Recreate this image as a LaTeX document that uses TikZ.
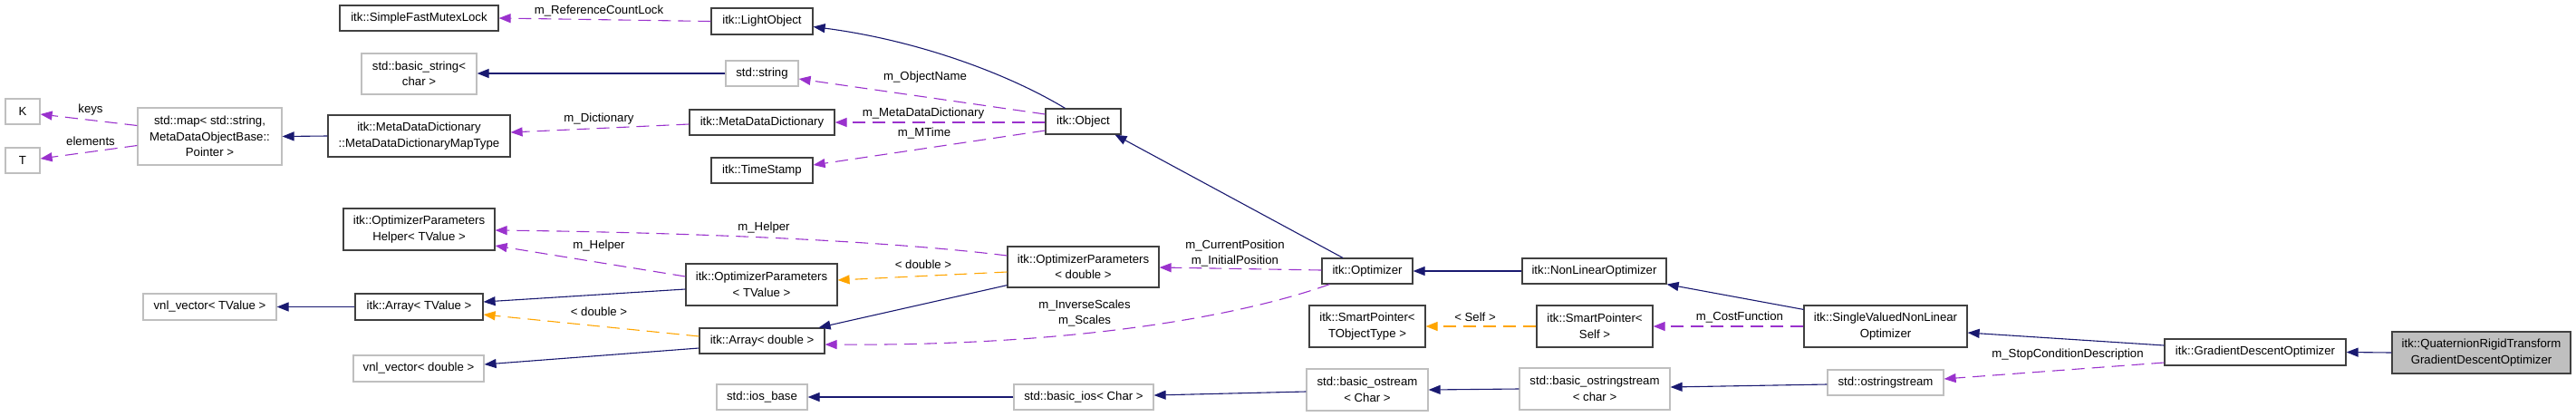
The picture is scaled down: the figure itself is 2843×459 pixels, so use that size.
\documentclass[tikz,border=0pt]{standalone}
\usepackage{fontspec}
\setmainfont{Liberation Sans}
\usetikzlibrary{arrows.meta,calc}
\definecolor{navyc}{HTML}{191970}
\definecolor{purpc}{HTML}{9A32CD}
\definecolor{orac}{HTML}{FFA500}
\definecolor{grayb}{HTML}{BFBFBF}
\definecolor{blackb}{HTML}{404040}
\newcommand\dgfont{\fontsize{13.2}{17.5}\selectfont}
\tikzset{
  box/.style={draw=blackb, line width=1.2pt, inner sep=0pt, align=center, font=\dgfont, fill=white},
  gbox/.style={box, draw=grayb},
  inh/.style={draw=navyc, line width=1.1pt, -{Triangle[length=13pt,width=10pt]}},
  mem/.style={draw=purpc, line width=1.1pt, dash pattern=on 14pt off 8pt, -{Triangle[length=13pt,width=10pt]}},
  tmpl/.style={draw=orac, line width=1.1pt, dash pattern=on 14pt off 8pt, -{Triangle[length=13pt,width=10pt]}},
  lbl/.style={font=\dgfont, inner sep=0pt, align=center}
}
\begin{document}
\begin{tikzpicture}[x=1pt,y=-1pt]
\useasboundingbox (0,0) rectangle (2843,459);
% nodes
\node[gbox, minimum width=38pt, minimum height=28pt] (K) at (25,123) {K};
\node[gbox, minimum width=38pt, minimum height=28pt] (T) at (25,177) {T};
\node[gbox, minimum width=159pt, minimum height=63pt] (map) at (231.5,150.5) {std::map< std::string,\\ MetaDataObjectBase::\\ Pointer >};
\node[box, minimum width=175pt, minimum height=28pt] (SFML) at (462.5,20) {itk::SimpleFastMutexLock};
\node[gbox, minimum width=127pt, minimum height=45pt] (bstring) at (462.5,81.5) {std::basic\_string<\\ char >};
\node[box, minimum width=201pt, minimum height=46pt] (MapType) at (462.5,150) {itk::MetaDataDictionary\\ ::MetaDataDictionaryMapType};
\node[box, minimum width=167pt, minimum height=46pt] (Helper) at (462.5,253) {itk::OptimizerParameters\\ Helper< TValue >};
\node[gbox, minimum width=147pt, minimum height=29pt] (vnlT) at (231.5,338.5) {vnl\_vector< TValue >};
\node[box, minimum width=141pt, minimum height=29pt] (ArrT) at (462.5,338.5) {itk::Array< TValue >};
\node[gbox, minimum width=144pt, minimum height=29pt] (vnlD) at (462,406.5) {vnl\_vector< double >};
\node[box, minimum width=112pt, minimum height=29pt] (LightObject) at (841,23.5) {itk::LightObject};
\node[gbox, minimum width=80pt, minimum height=28pt] (string) at (841,81) {std::string};
\node[box, minimum width=160pt, minimum height=28pt] (MDD) at (841,135) {itk::MetaDataDictionary};
\node[box, minimum width=112pt, minimum height=28pt] (TimeStamp) at (841,188) {itk::TimeStamp};
\node[box, minimum width=167pt, minimum height=46pt] (OPT) at (840.5,314) {itk::OptimizerParameters\\ < TValue >};
\node[box, minimum width=138pt, minimum height=28pt] (ArrD) at (841,376) {itk::Array< double >};
\node[gbox, minimum width=100pt, minimum height=28pt] (iosbase) at (841,438) {std::ios\_base};
\node[box, minimum width=83pt, minimum height=28pt] (Object) at (1195.5,134) {itk::Object};
\node[box, minimum width=167pt, minimum height=45pt] (OPD) at (1195.5,294.5) {itk::OptimizerParameters\\ < double >};
\node[gbox, minimum width=154pt, minimum height=28pt] (basicios) at (1196,438) {std::basic\_ios< Char >};
\node[box, minimum width=100pt, minimum height=28pt] (Optimizer) at (1509,299) {itk::Optimizer};
\node[box, minimum width=128pt, minimum height=46pt] (SPT) at (1509,360) {itk::SmartPointer<\\ TObjectType >};
\node[gbox, minimum width=134pt, minimum height=46pt] (bostream) at (1509,430) {std::basic\_ostream\\ < Char >};
\node[box, minimum width=159pt, minimum height=28pt] (NLO) at (1759.5,299) {itk::NonLinearOptimizer};
\node[box, minimum width=128pt, minimum height=46pt] (SPS) at (1760,360) {itk::SmartPointer<\\ Self >};
\node[gbox, minimum width=166pt, minimum height=46pt] (bostringstream) at (1760,429) {std::basic\_ostringstream\\ < char >};
\node[box, minimum width=180pt, minimum height=46pt] (SVNLO) at (2081,360) {itk::SingleValuedNonLinear\\ Optimizer};
\node[gbox, minimum width=128pt, minimum height=28pt] (ostringstream) at (2081,422) {std::ostringstream};
\node[box, minimum width=200pt, minimum height=29pt] (GDO) at (2489,388.5) {itk::GradientDescentOptimizer};
\node[box, minimum width=197pt, minimum height=46pt, fill=grayb] (QRT) at (2738.5,389) {itk::QuaternionRigidTransform\\ GradientDescentOptimizer};
% edges
\draw[mem] ($(map.west)+(0,-12)$) -- ($(K.east)+(0,3)$);
\node[lbl] (lkeys) at (100,121) {keys};
\draw[mem] ($(map.west)+(0,10)$) -- ($(T.east)+(0,-2)$);
\node[lbl] (lelem) at (100,156) {elements};
\draw[inh] (MapType.west) -- (map.east);
\draw[mem] (LightObject.west) -- (SFML.east);
\node[lbl] (lrcl) at (661,12) {m\_ReferenceCountLock};
\draw[inh] (string.west) -- ($(bstring.east)+(0,-0.5)$);
\draw[mem] ($(MDD.west)+(0,2)$) -- ($(MapType.east)+(0,-4)$);
\node[lbl] (ldict) at (661,131) {m\_Dictionary};
\draw[inh] ($(Object.north)+(-20,0)$) .. controls (1110,80) and (1010,44) .. ($(LightObject.east)+(0,6)$);
\draw[mem] ($(Object.west)+(0,-8)$) -- ($(string.east)+(0,6)$);
\node[lbl] (lobjname) at (1021,85) {m\_ObjectName};
\draw[mem] ($(Object.west)+(0,1)$) -- (MDD.east);
\node[lbl] (lmdd) at (1019,125) {m\_MetaDataDictionary};
\draw[mem] ($(Object.west)+(0,10)$) -- ($(TimeStamp.east)+(0,-6)$);
\node[lbl] (lmtime) at (1020,147) {m\_MTime};
\draw[inh] ($(Optimizer.north)+(-27,0)$) -- ($(Object.south)+(35,0)$);
\draw[mem] ($(Optimizer.west)+(0,-1)$) -- ($(OPD.east)+(0,0.5)$);
\node[lbl] (lpos) at (1363,279.5) {m\_CurrentPosition\\ m\_InitialPosition};
\draw[mem] ($(Optimizer.south west)+(9,0)$) .. controls (1380,345) and (1200,382) .. ($(ArrD.east)+(0,4)$);
\node[lbl] (lscales) at (1197,345.5) {m\_InverseScales\\ m\_Scales};
\draw[inh] (NLO.west) -- (Optimizer.east);
\draw[inh] ($(SVNLO.north west)+(0,5)$) -- (NLO.south east);
\draw[tmpl] (SPS.west) -- (SPT.east);
\node[lbl] (lself) at (1628,350) {< Self >};
\draw[mem] (SVNLO.west) -- (SPS.east);
\node[lbl] (lcost) at (1920,350) {m\_CostFunction};
\draw[inh] ($(GDO.west)+(0,-7.5)$) -- ($(SVNLO.east)+(0,7)$);
\draw[mem] ($(GDO.west)+(0,11.5)$) -- ($(ostringstream.east)+(0,-4)$);
\node[lbl] (lstop) at (2282,391) {m\_StopConditionDescription};
\draw[inh] (QRT.west) -- (GDO.east);
\draw[inh] (bostringstream.west) -- (bostream.east);
\draw[inh] ($(bostream.west)+(0,2)$) -- ($(basicios.east)+(0,-2)$);
\draw[inh] (basicios.west) -- (iosbase.east);
\draw[inh] ($(ostringstream.west)+(0,2)$) -- ($(bostringstream.east)+(0,-2)$);
\draw[tmpl] ($(OPD.west)+(0,5.5)$) -- ($(OPT.east)+(0,-5)$);
\node[lbl] (ldbl1) at (1019,292) {< double >};
\draw[inh] ($(OPT.west)+(0,5)$) -- ($(ArrT.east)+(0,-5.5)$);
\draw[inh] ($(OPD.south west)+(0,-3)$) -- ($(ArrD.north east)+(-7,0)$);
\draw[tmpl] ($(ArrD.west)+(0,-5)$) -- ($(ArrT.east)+(0,8.5)$);
\node[lbl] (ldbl2) at (661,344) {< double >};
\draw[inh] ($(ArrD.west)+(0,8)$) -- ($(vnlD.east)+(0,-4.5)$);
\draw[inh] (ArrT.west) -- (vnlT.east);
\draw[mem] ($(OPD.west)+(0,-12.5)$) .. controls (1000,268) and (800,257) .. ($(Helper.east)+(0,1)$);
\node[lbl] (lhelp1) at (843,251) {m\_Helper};
\draw[mem] ($(OPT.west)+(0,-9)$) -- ($(Helper.east)+(0,18)$);
\node[lbl] (lhelp2) at (661,271) {m\_Helper};
\end{tikzpicture}
\end{document}
